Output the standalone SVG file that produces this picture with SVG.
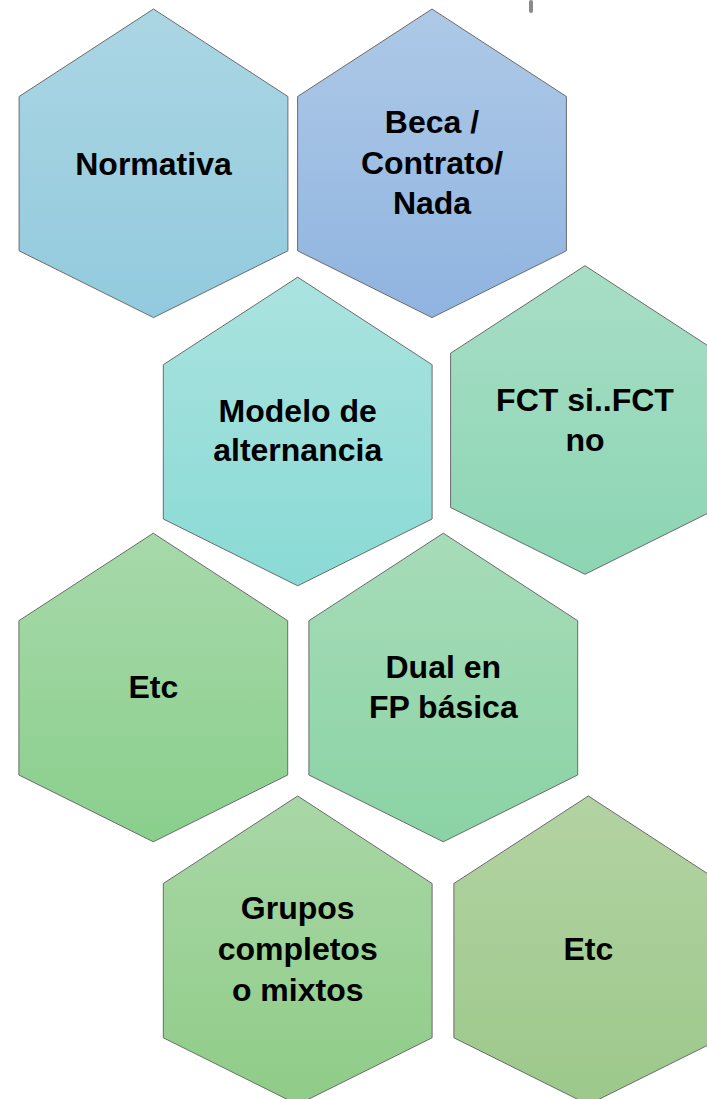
<svg xmlns="http://www.w3.org/2000/svg" xmlns:xlink="http://www.w3.org/1999/xlink" width="707" height="1099" viewBox="0 0 707 1099">
  <style>
    .hex { stroke: #6b6b6b; stroke-width: 1; }
    .lbl { font-family: "Liberation Sans", Arial, sans-serif; font-weight: bold; font-size: 32px; fill: #000; text-anchor: middle; }
  </style>
  <defs>
    <polygon id="hexShape" points="0,-154.3 134.4,-66.8 134.4,87.5 0,154.3 -134.4,87.5 -134.4,-66.8"/>
    <linearGradient id="g1" x1="0" y1="0" x2="0" y2="1"><stop offset="0" stop-color="#ABD6E4"/><stop offset="1" stop-color="#92CADD"/></linearGradient>
    <linearGradient id="g2" x1="0" y1="0" x2="0" y2="1"><stop offset="0" stop-color="#AEC9E7"/><stop offset="1" stop-color="#8FB4E0"/></linearGradient>
    <linearGradient id="g3" x1="0" y1="0" x2="0" y2="1"><stop offset="0" stop-color="#AAE3DF"/><stop offset="1" stop-color="#8ADAD5"/></linearGradient>
    <linearGradient id="g4" x1="0" y1="0" x2="0" y2="1"><stop offset="0" stop-color="#A7DEC6"/><stop offset="1" stop-color="#8CD5B3"/></linearGradient>
    <linearGradient id="g5" x1="0" y1="0" x2="0" y2="1"><stop offset="0" stop-color="#A7D9AA"/><stop offset="1" stop-color="#8ACF8C"/></linearGradient>
    <linearGradient id="g6" x1="0" y1="0" x2="0" y2="1"><stop offset="0" stop-color="#A7DCB8"/><stop offset="1" stop-color="#8AD3A5"/></linearGradient>
    <linearGradient id="g7" x1="0" y1="0" x2="0" y2="1"><stop offset="0" stop-color="#A9D7A7"/><stop offset="1" stop-color="#8FCC87"/></linearGradient>
    <linearGradient id="g8" x1="0" y1="0" x2="0" y2="1"><stop offset="0" stop-color="#B3D3A2"/><stop offset="1" stop-color="#9CC88A"/></linearGradient>
  </defs>
  <rect width="707" height="1099" fill="#ffffff"/>
  <rect x="529" y="0" width="4" height="13" rx="2" fill="#8a8a8a"/>

  <g id="node-normativa">
    <use xlink:href="#hexShape" href="#hexShape" class="hex" fill="url(#g1)" transform="translate(153.5,163.3)"/>
    <text class="lbl" x="153.5" y="175">Normativa</text>
  </g>
  <g id="node-beca">
    <use xlink:href="#hexShape" href="#hexShape" class="hex" fill="url(#g2)" transform="translate(432,163.3)"/>
    <text class="lbl" x="432" y="133">Beca /</text>
    <text class="lbl" x="432" y="174">Contrato/</text>
    <text class="lbl" x="432" y="214">Nada</text>
  </g>
  <g id="node-modelo">
    <use xlink:href="#hexShape" href="#hexShape" class="hex" fill="url(#g3)" transform="translate(297.7,431.5)"/>
    <text class="lbl" x="297.7" y="422">Modelo de</text>
    <text class="lbl" x="297.7" y="461">alternancia</text>
  </g>
  <g id="node-fct">
    <use xlink:href="#hexShape" href="#hexShape" class="hex" fill="url(#g4)" transform="translate(585,420)"/>
    <text class="lbl" x="585" y="411">FCT si..FCT</text>
    <text class="lbl" x="585" y="451">no</text>
  </g>
  <g id="node-etc1">
    <use xlink:href="#hexShape" href="#hexShape" class="hex" fill="url(#g5)" transform="translate(153.3,687.5)"/>
    <text class="lbl" x="153.3" y="698">Etc</text>
  </g>
  <g id="node-dual">
    <use xlink:href="#hexShape" href="#hexShape" class="hex" fill="url(#g6)" transform="translate(443.3,687.5)"/>
    <text class="lbl" x="443.3" y="678">Dual en</text>
    <text class="lbl" x="443.3" y="718">FP básica</text>
  </g>
  <g id="node-grupos">
    <use xlink:href="#hexShape" href="#hexShape" class="hex" fill="url(#g7)" transform="translate(297.7,950.3)"/>
    <text class="lbl" x="297.7" y="919">Grupos</text>
    <text class="lbl" x="297.7" y="960">completos</text>
    <text class="lbl" x="297.7" y="1001">o mixtos</text>
  </g>
  <g id="node-etc2">
    <use xlink:href="#hexShape" href="#hexShape" class="hex" fill="url(#g8)" transform="translate(588.3,950.3)"/>
    <text class="lbl" x="588.3" y="960">Etc</text>
  </g>
</svg>
